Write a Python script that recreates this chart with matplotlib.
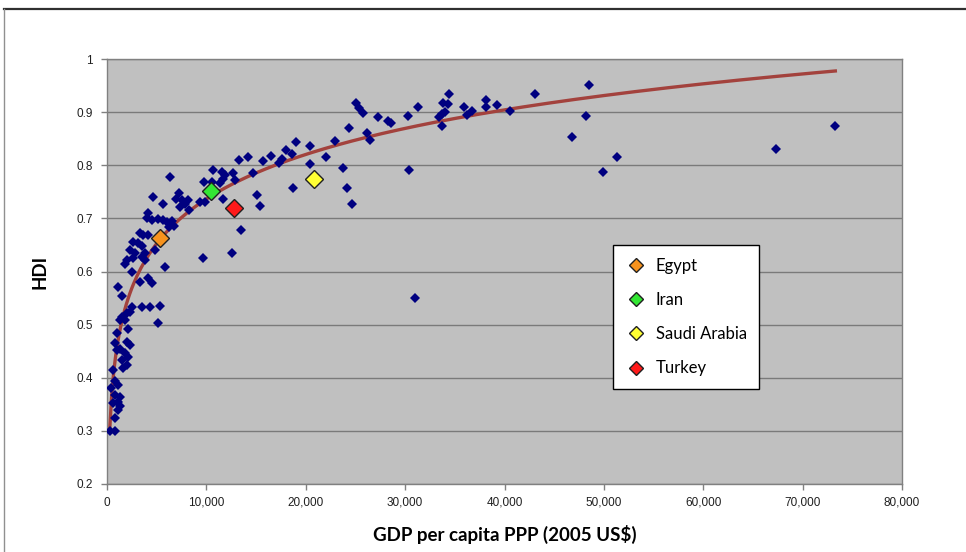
import numpy as np
import matplotlib
matplotlib.use("Agg")
import matplotlib.pyplot as plt
from matplotlib.lines import Line2D
from matplotlib.ticker import FuncFormatter

# GDP per capita PPP (2005 US$) and HDI for all countries
gdp = [
    25050, 25380, 25720, 27300, 28300, 28550, 24380, 26130, 26460, 22970,
    18990, 20430, 17980, 18650, 22030, 16470, 15670, 14220, 13310, 17570,
    17340, 20430, 23780, 10630, 11540, 11870, 12710, 11700, 12880, 14720,
    9760, 10530, 18680, 24110, 15060, 15400, 24620, 11700, 9360, 13480,
    12610, 9690,
    30310, 31330, 30420, 30990, 33440, 33700, 34000, 33850, 34350, 34420,
    33750, 35920, 36260, 36700, 38140, 38140, 39280, 40550, 43070, 48530,
    48170, 46790, 51290, 49880, 67320, 73290,
    6340, 4600, 5670, 7280, 6940, 7510, 7850, 8180, 7340, 8280,
    4160, 3990, 4500, 5160, 5670, 6070, 6510, 6270, 6740, 11370,
    9860, 3320, 3650, 3820, 4830, 5840, 4160,
    2650, 3150, 3490, 2310, 2820, 2650, 2040, 1810, 3490, 3820,
    2480, 3320, 4160, 4500, 1140, 1480, 2480, 3490, 4330, 5330,
    5160, 1980, 1480, 1310, 1810, 2310, 980, 2140, 800, 1980,
    2310, 1310, 1810, 980, 2140, 1480, 1980, 1640, 630, 800,
    1140, 420, 800, 1310, 1140, 630, 1310, 1140, 800, 290,
    800,
]
hdi = [
    0.918, 0.907, 0.898, 0.891, 0.884, 0.879, 0.871, 0.861, 0.848, 0.846,
    0.843, 0.837, 0.829, 0.822, 0.816, 0.818, 0.808, 0.816, 0.809, 0.812,
    0.804, 0.802, 0.794, 0.791, 0.788, 0.782, 0.786, 0.775, 0.772, 0.785,
    0.769, 0.769, 0.758, 0.758, 0.744, 0.724, 0.728, 0.736, 0.731, 0.678,
    0.634, 0.625,
    0.893, 0.909, 0.791, 0.551, 0.891, 0.896, 0.901, 0.918, 0.915, 0.935,
    0.874, 0.910, 0.895, 0.903, 0.922, 0.910, 0.913, 0.903, 0.935, 0.952,
    0.893, 0.853, 0.816, 0.787, 0.831, 0.874,
    0.777, 0.740, 0.728, 0.747, 0.736, 0.735, 0.728, 0.735, 0.721, 0.716,
    0.710, 0.700, 0.697, 0.698, 0.697, 0.694, 0.696, 0.684, 0.686, 0.766,
    0.731, 0.672, 0.669, 0.634, 0.640, 0.609, 0.669,
    0.656, 0.653, 0.648, 0.640, 0.634, 0.625, 0.622, 0.614, 0.628, 0.622,
    0.600, 0.581, 0.587, 0.578, 0.570, 0.553, 0.533, 0.533, 0.533, 0.535,
    0.504, 0.521, 0.515, 0.509, 0.509, 0.524, 0.484, 0.491, 0.465, 0.468,
    0.462, 0.455, 0.446, 0.452, 0.440, 0.433, 0.424, 0.418, 0.415, 0.393,
    0.386, 0.380, 0.367, 0.364, 0.355, 0.352, 0.346, 0.339, 0.324, 0.299,
    0.299,
]

# Highlighted countries
highlight_names = ["Egypt", "Iran", "Saudi Arabia", "Turkey"]
highlight_gdp = [5300, 10500, 20800, 12800]
highlight_hdi = [0.664, 0.751, 0.775, 0.720]
highlight_colors = ["#F7931E", "#33E633", "#FFFF33", "#FF1A1A"]

# logarithmic trend line: HDI = slope * ln(GDP) + intercept
trend_slope = 0.121
trend_intercept = -0.378

x_ticks = [0, 10000, 20000, 30000, 40000, 50000, 60000, 70000, 80000]
y_ticks = [0.2, 0.3, 0.4, 0.5, 0.6, 0.7, 0.8, 0.9, 1.0]

W, H = 966, 552
fig = plt.figure(figsize=(W / 100, H / 100), dpi=100)
fig.patch.set_facecolor("white")

# outer chart frame
fig.add_artist(Line2D([4 / W, 1.0], [1 - 9 / H, 1 - 9 / H], color="#303030", lw=1.6))
fig.add_artist(Line2D([4 / W, 4 / W], [0, 1 - 9 / H], color="#909090", lw=1.0))

left, right, top, bottom = 107, 902, 59, 484
ax = fig.add_axes([left / W, 1 - bottom / H, (right - left) / W, (bottom - top) / H])
ax.set_facecolor("#C0C0C0")

ax.set_xlim(0, 80000)
ax.set_ylim(0.2, 1.0)
ax.set_xticks(x_ticks)
ax.set_yticks(y_ticks)
ax.xaxis.set_major_formatter(FuncFormatter(lambda v, p: f"{int(v):,}"))
ax.yaxis.set_major_formatter(FuncFormatter(lambda v, p: f"{v:g}"))

ax.grid(axis="y", color="#7A7A7A", lw=1.0)
ax.set_axisbelow(True)
for s in ax.spines.values():
    s.set_color("#808080")
    s.set_linewidth(1.0)

tick_font = ["Liberation Sans Narrow", "Liberation Sans", "DejaVu Sans"]
ax.tick_params(axis="both", direction="out", length=4, width=1, color="#808080",
               labelsize=8.5, labelcolor="#202020")
for lab in ax.get_xticklabels() + ax.get_yticklabels():
    lab.set_fontfamily(tick_font)
ax.tick_params(axis="x", pad=5)
ax.tick_params(axis="y", pad=6)

gx = np.array(gdp, dtype=float)
tx = np.linspace(gx.min(), gx.max(), 400)
ax.plot(tx, trend_slope * np.log(tx) + trend_intercept, color="#A3423D", lw=2.4, zorder=3)

ax.plot(gdp, hdi, linestyle="none", marker="D", markersize=4.8,
        color="#000080", markeredgewidth=0, zorder=4)

handles = []
for name, x, y, c in zip(highlight_names, highlight_gdp, highlight_hdi, highlight_colors):
    ax.plot([x], [y], linestyle="none", marker="D", markersize=9,
            markerfacecolor=c, markeredgecolor="#202020", markeredgewidth=1.0, zorder=5)
    handles.append(Line2D([], [], linestyle="none", marker="D", markersize=7.5,
                          markerfacecolor=c, markeredgecolor="#202020",
                          markeredgewidth=1.0, label=name))

label_font = ["Lato", "DejaVu Sans"]
leg = ax.legend(handles=handles, loc="upper left",
                bbox_to_anchor=((613 - left) / (right - left), (bottom - 245) / (bottom - top)),
                frameon=True, fancybox=False, framealpha=1, edgecolor="#000000",
                prop={"family": label_font, "size": 12},
                labelspacing=1.1, borderpad=0.75, handletextpad=0.6,
                handlelength=1.2, borderaxespad=0)
leg.get_frame().set_linewidth(1.0)
leg.set_zorder(6)

ax.set_xlabel("GDP per capita PPP (2005 US$)", fontsize=13.5, fontweight="bold",
              family=label_font, labelpad=12)
ax.set_ylabel("HDI", fontsize=13.5, fontweight="bold", family=label_font, labelpad=20)

fig.savefig("out.png", dpi=100)
